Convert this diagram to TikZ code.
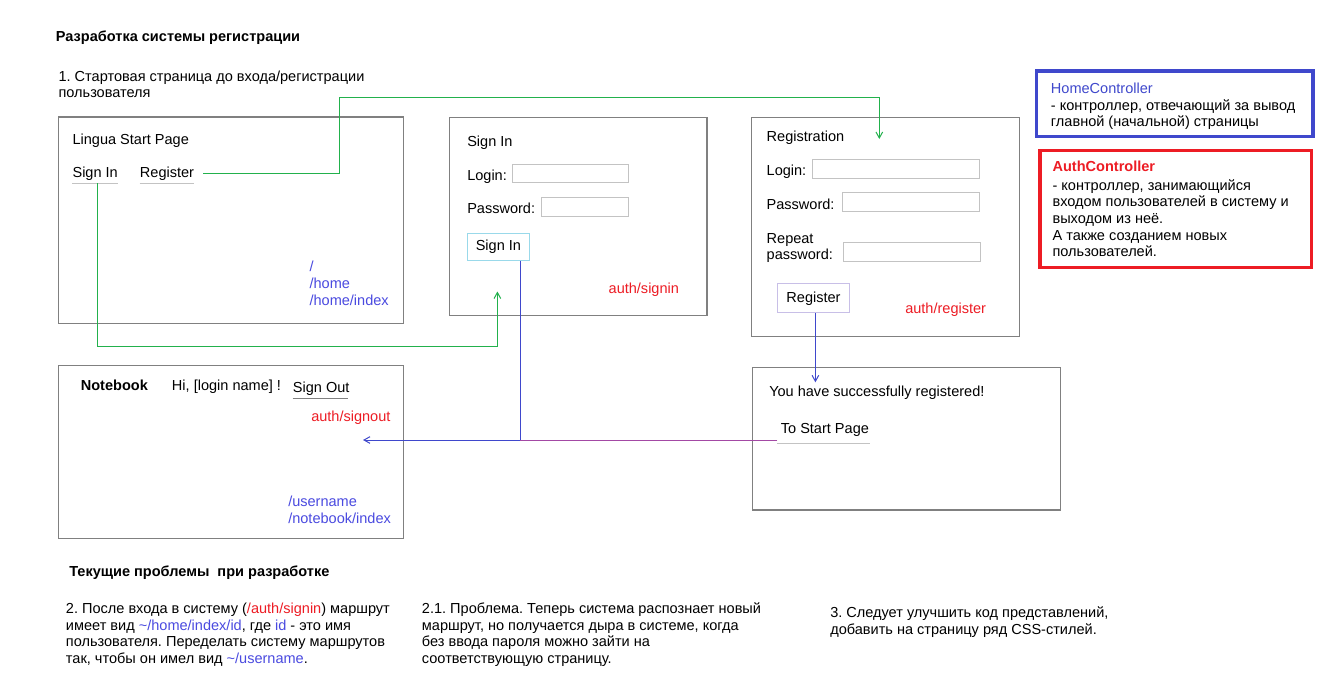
\documentclass[tikz,border=0pt]{standalone}
\usepackage{fontspec}
\setmainfont{Liberation Sans}
\usetikzlibrary{arrows.meta,fit}
\definecolor{framegray}{HTML}{808080}
\definecolor{inputgray}{HTML}{C3C3C3}
\definecolor{pgreen}{HTML}{22B14C}
\definecolor{pblue}{HTML}{3F48CC}
\definecolor{pred}{HTML}{ED1C24}
\definecolor{ppurple}{HTML}{A349A4}
\definecolor{routeblue}{HTML}{4A4AE0}
\definecolor{btnblue}{HTML}{99D9EA}
\definecolor{btnlav}{HTML}{C8BFE7}
\frenchspacing
\begin{document}
\begin{tikzpicture}[x=0.75pt,y=-0.75pt,
  txt/.style={anchor=base west, inner sep=0pt, font=\fontsize{10.9pt}{12.75pt}\selectfont},
  btxt/.style={txt, font=\fontsize{10.9pt}{12.75pt}\selectfont\bfseries},
  route/.style={txt, text=routeblue},
  authroute/.style={txt, text=pred},
  frame/.style={draw=framegray, line width=0.9pt, inner sep=0pt},
  inputbox/.style={draw=inputgray, line width=0.75pt, inner sep=0pt},
  btn/.style={inner sep=0pt, line width=0.75pt, font=\fontsize{10.9pt}{12.75pt}\selectfont},
  ulink/.style={draw=inputgray, line width=0.75pt},
  tip/.style={-{Straight Barb[length=4.5pt,width=5pt]}},
  gconn/.style={draw=pgreen, line width=0.75pt},
  bconn/.style={draw=pblue, line width=0.75pt},
  pconn/.style={draw=ppurple, line width=0.75pt},
]
\useasboundingbox[fill=white] (0,0) rectangle (1331,693);

% titles
\node[btxt] (title) at (55.7,41.7) {Разработка системы регистрации};
\node[txt] (intro1) at (58.3,81.7) {1. Стартовая страница до входа/регистрации};
\node[txt] (intro2) at (58.3,97.3) {пользователя};

% start page
\node[frame, fit={(58.5,117) (403.3,323.3)}] (startbox) {};
\node[txt] (startttl) at (72.3,144) {Lingua Start Page};
\node[txt] (signinlink) at (72.3,177.3) {Sign In};
\node[txt] (reglink) at (139.7,177.3) {Register};
\draw[ulink] (72.3,183.3) -- (118,183.3);
\draw[ulink] (139.7,183.3) -- (194,183.3);
\node[route] (r1) at (309.3,271) {/};
\node[route] (r2) at (309.3,288.3) {/home};
\node[route] (r3) at (309.3,305.7) {/home/index};

% sign in page
\node[frame, fit={(449.6,117.7) (707,315.3)}] (signinbox) {};
\node[txt] (signinttl) at (467,146) {Sign In};
\node[txt] (silogin) at (467,180) {Login:};
\node[inputbox, fit={(512.3,164.7) (628.7,182.3)}] (siloginin) {};
\node[txt] (sipass) at (467,213.3) {Password:};
\node[inputbox, fit={(541.4,197.3) (628.7,216.3)}] (sipassin) {};
\node[btn, draw=btnblue, minimum width=62.4*0.75pt, minimum height=27*0.75pt] (signinbtn) at (498.4,246.5) {Sign In};
\node[authroute] (asignin) at (608.4,293.3) {auth/signin};

% registration page
\node[frame, fit={(751.5,117.7) (1019.8,336.3)}] (regbox) {};
\node[txt] (regttl) at (766.4,141) {Registration};
\node[txt] (rglogin) at (766.4,175) {Login:};
\node[inputbox, fit={(812.4,159.3) (979.6,178.3)}] (rgloginin) {};
\node[txt] (rgpass) at (766.4,209) {Password:};
\node[inputbox, fit={(842.6,192.7) (979.6,211.3)}] (rgpassin) {};
\node[txt] (rgrep1) at (766.4,243.3) {Repeat};
\node[txt] (rgrep2) at (766.4,259.3) {password:};
\node[inputbox, fit={(843.4,242.7) (980.4,261.3)}] (rgrepin) {};
\node[btn, draw=btnlav, minimum width=72*0.75pt, minimum height=29*0.75pt] (regbtn) at (813.5,298.3) {Register};
\node[authroute] (aregister) at (905,313.3) {auth/register};

% notebook page
\node[frame, fit={(58.5,365.7) (403.3,538.3)}] (notebox) {};
\node[btxt] (notettl) at (80.6,390) {Notebook};
\node[txt] (hi) at (171.7,390) {Hi, [login name] !};
\node[txt] (signout) at (292.7,392.3) {Sign Out};
\draw[draw=framegray, line width=0.75pt] (292.7,398.3) -- (348,398.3);
\node[authroute] (asignout) at (311,421.7) {auth/signout};
\node[route] (r4) at (288,506.7) {/username};
\node[route] (r5) at (288,523.3) {/notebook/index};

% success page
\node[frame, fit={(752.7,367.3) (1060.4,510)}] (succbox) {};
\node[txt] (succ) at (769,396.7) {You have successfully registered!};
\node[txt] (tostart) at (780.6,433.3) {To Start Page};
\draw[ulink] (777.4,443.3) -- (870.4,443.3);

% controllers
\node[draw=pblue, line width=2.3pt, inner sep=0pt, fit={(1036.5,71) (1313,136.7)}] (homebox) {};
\node[txt, text=pblue] (homettl) at (1050.7,93.3) {HomeController};
\node[txt] (home1) at (1050.7,110) {- контроллер, отвечающий за вывод};
\node[txt] (home2) at (1050.7,126.7) {главной (начальной) страницы};
\node[draw=pred, line width=2.3pt, inner sep=0pt, fit={(1040,150.3) (1311.3,267.3)}] (authbox) {};
\node[btxt, text=pred] (authttl) at (1052.3,171.7) {AuthController};
\node[txt] (auth1) at (1052.3,190) {- контроллер, занимающийся};
\node[txt] (auth2) at (1052.3,206.7) {входом пользователей в систему и};
\node[txt] (auth3) at (1052.3,223.3) {выходом из неё.};
\node[txt] (auth4) at (1052.3,240) {А также созданием новых};
\node[txt] (auth5) at (1052.3,256.7) {пользователей.};

% problems
\node[btxt] (probttl) at (69,576.7) {Текущие проблемы~ при разработке};
\node[txt] (p1a) at (65.7,613.3) {2. После входа в систему ({\color{pred}/auth/signin}) маршрут};
\node[txt] (p1b) at (65.7,630) {имеет вид {\color{routeblue}\textasciitilde/home/index/id}, где {\color{routeblue}id} - это имя};
\node[txt] (p1c) at (65.7,646.7) {пользователя. Переделать систему маршрутов};
\node[txt] (p1d) at (65.7,663.3) {так, чтобы он имел вид {\color{routeblue}\textasciitilde/username}.};
\node[txt] (p2a) at (421.7,613.3) {2.1. Проблема. Теперь система распознает новый};
\node[txt] (p2b) at (421.7,630) {маршрут, но получается дыра в системе, когда};
\node[txt] (p2c) at (421.7,646.7) {без ввода пароля можно зайти на};
\node[txt] (p2d) at (421.7,663.3) {соответствующую страницу.};
\node[txt] (p3a) at (830,617.7) {3. Следует улучшить код представлений,};
\node[txt] (p3b) at (830,634.3) {добавить на страницу ряд CSS-стилей.};

% connector end points
\coordinate (sgstart) at (97.3,183.3);
\coordinate (regbend) at (339.3,97.3);
\coordinate (regtip) at (879.3,139);
\coordinate (sgbend) at (497.4,346);
\coordinate (sgtip) at (497.4,291.5);
\coordinate (notetip) at (363,440);
\coordinate (junction) at (520.4,440);
\coordinate (tostartout) at (777.4,440);
\coordinate (succtip) at (815.4,382.3);

% connectors
\draw[gconn, tip] ([xshift=6.8pt]reglink.east) -| (regbend) -| (regtip);
\draw[gconn, tip] (sgstart) |- (sgbend) -- (sgtip);
\draw[bconn, tip] (signinbtn.south -| junction) -- (junction) -- (notetip);
\draw[pconn] (tostartout) -- (junction);
\draw[bconn, tip] (regbtn.south -| succtip) -- (succtip);
\end{tikzpicture}
\end{document}
